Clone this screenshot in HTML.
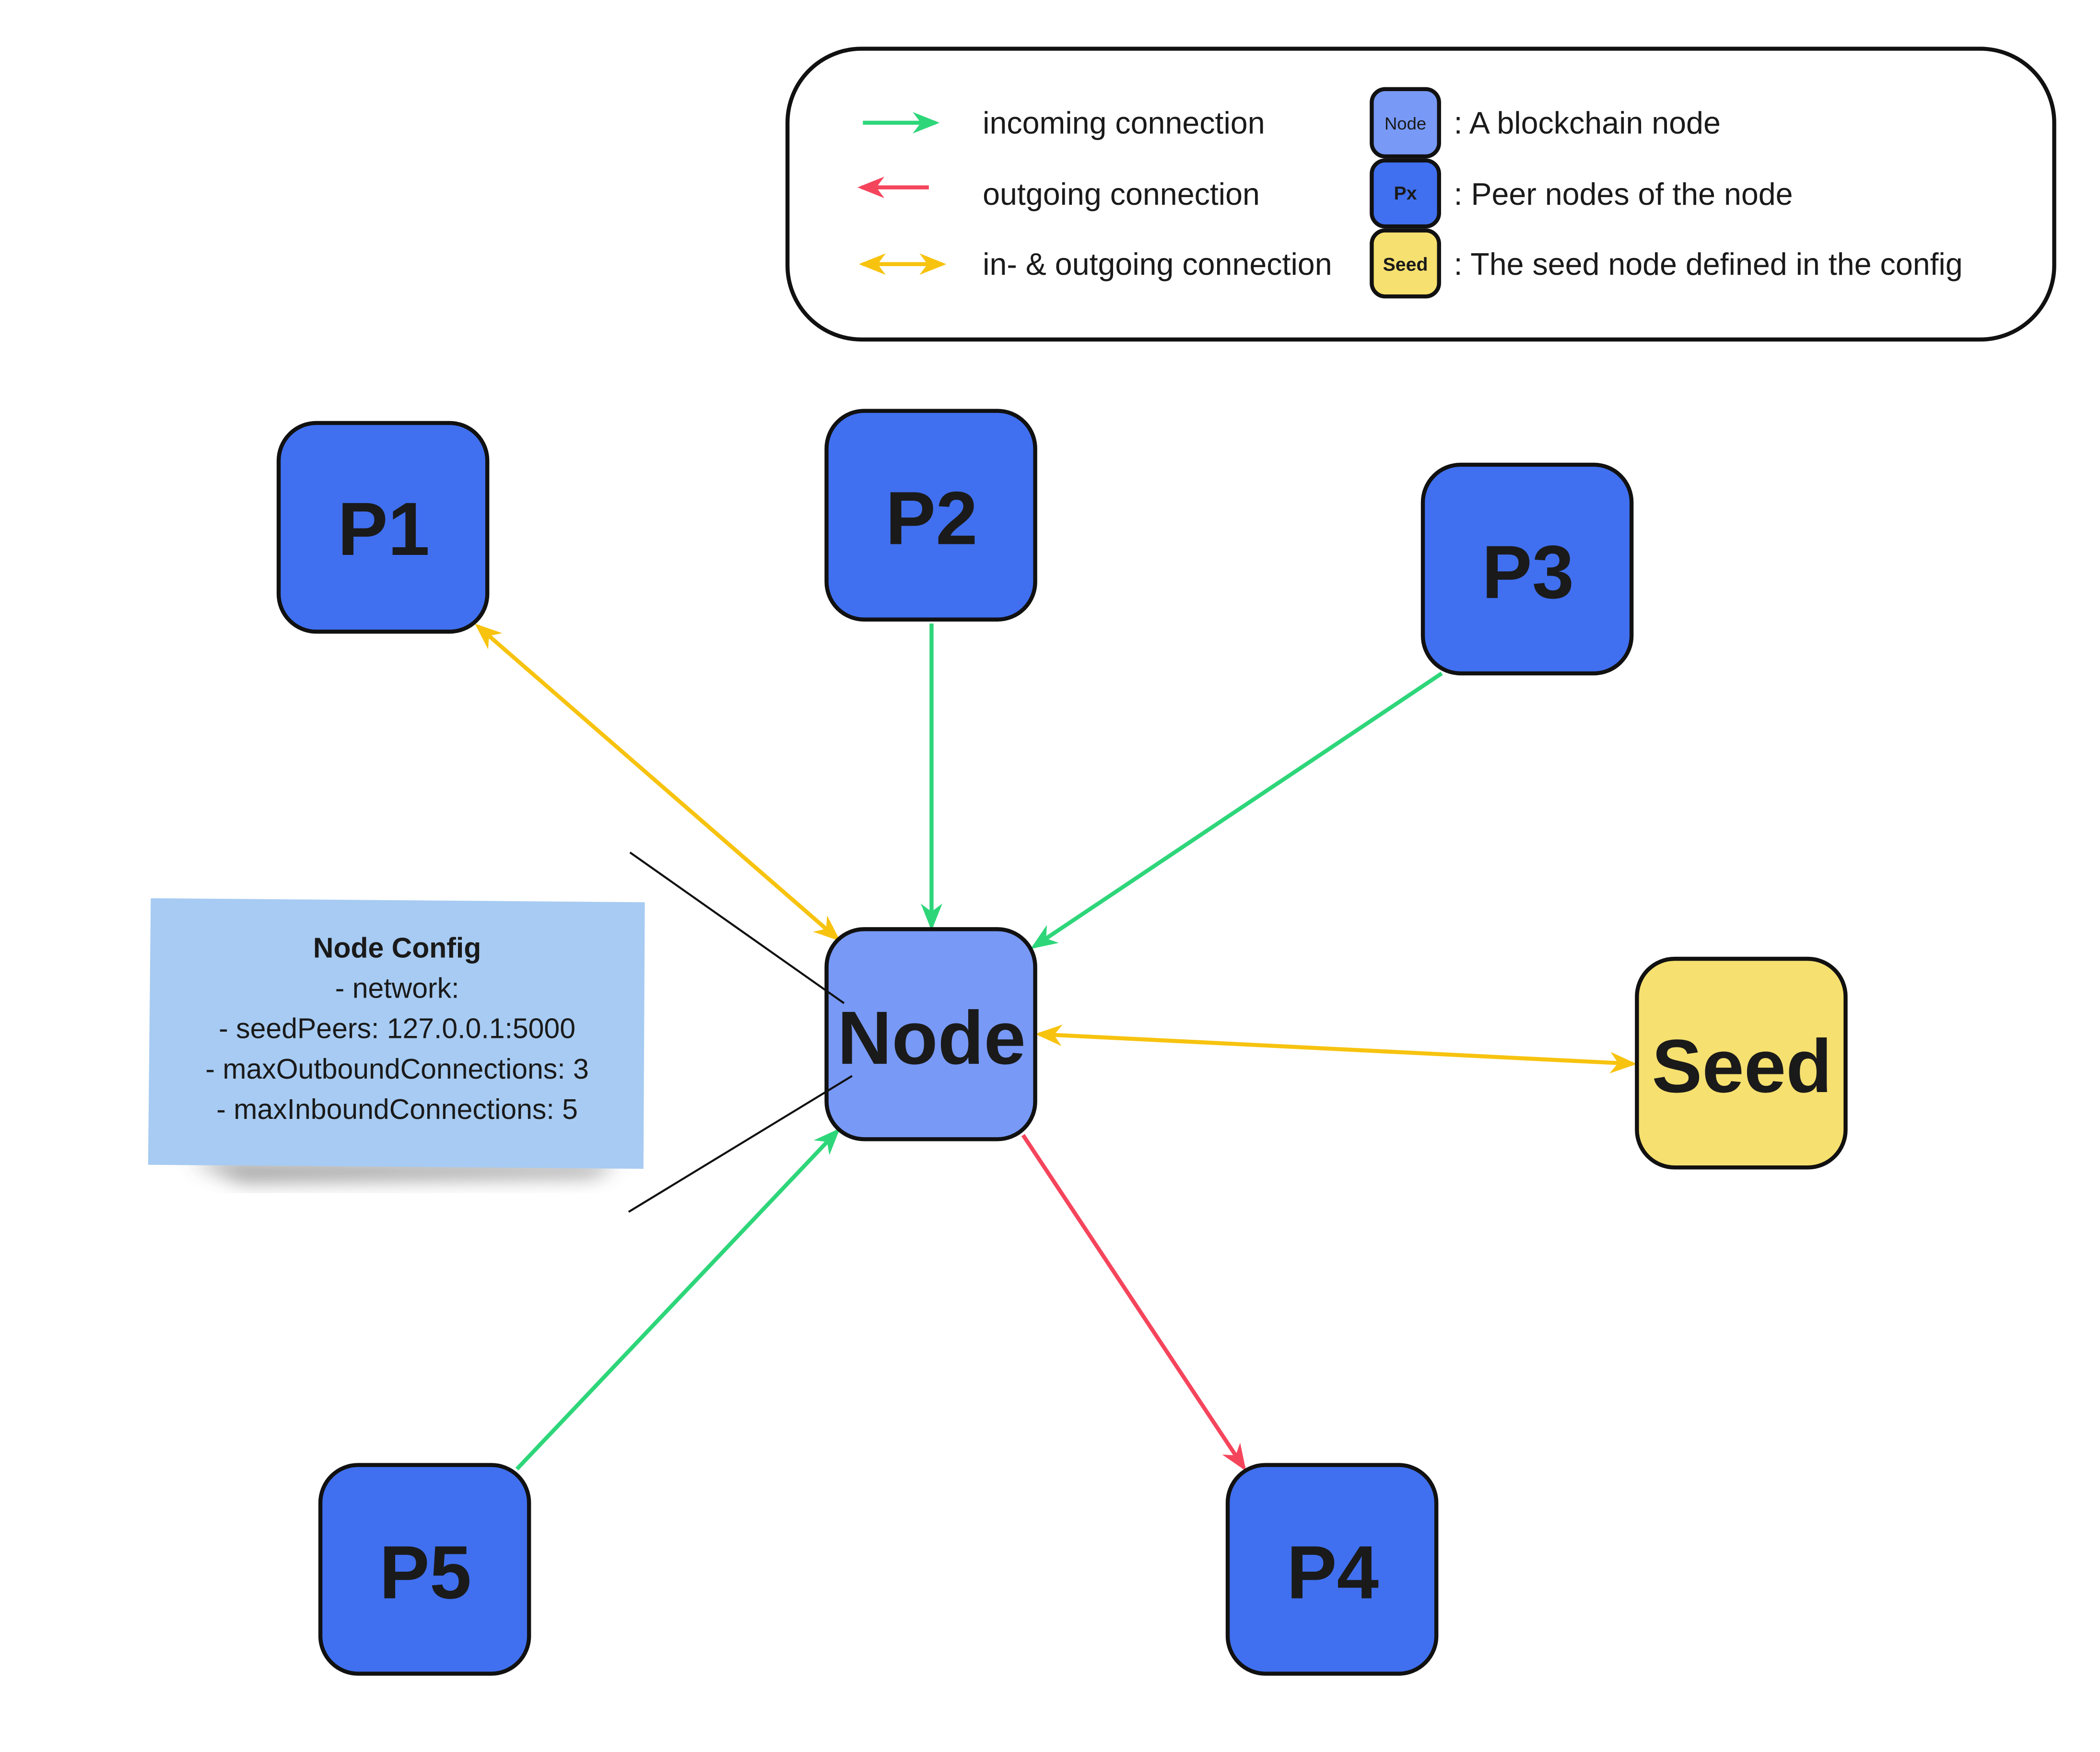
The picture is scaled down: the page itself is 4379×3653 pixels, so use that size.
<!DOCTYPE html>
<html><head><meta charset="utf-8"><style>
html,body{margin:0;padding:0;background:#fff;}
svg{display:block;}
text{font-family:"Liberation Sans","DejaVu Sans",sans-serif;fill:#1a1a1a;}
</style></head><body>
<svg width="4379" height="3653" viewBox="0 0 1560 1301" xmlns="http://www.w3.org/2000/svg">
<defs>
<marker id="ag" viewBox="0 0 20 20" refX="17" refY="10" markerWidth="20" markerHeight="20" markerUnits="userSpaceOnUse" orient="auto-start-reverse"><path d="M0,2 L20,10 L0,18 L6,10 Z" fill="#2ed67a"/></marker>
<marker id="ar" viewBox="0 0 20 20" refX="17" refY="10" markerWidth="20" markerHeight="20" markerUnits="userSpaceOnUse" orient="auto-start-reverse"><path d="M0,2 L20,10 L0,18 L6,10 Z" fill="#f5455c"/></marker>
<marker id="ay" viewBox="0 0 20 20" refX="17" refY="10" markerWidth="20" markerHeight="20" markerUnits="userSpaceOnUse" orient="auto-start-reverse"><path d="M0,2 L20,10 L0,18 L6,10 Z" fill="#f7c30f"/></marker>
<filter id="sh" x="-20%" y="-50%" width="140%" height="200%"><feGaussianBlur stdDeviation="7"/></filter>
</defs>
<!-- legend -->
<rect x="585" y="36" width="941" height="216" rx="55" fill="#fff" stroke="#111" stroke-width="3"/>
<line x1="641" y1="91" x2="695" y2="91" stroke="#2ed67a" stroke-width="3" marker-end="url(#ag)"/>
<line x1="690" y1="139" x2="640" y2="139" stroke="#f5455c" stroke-width="3" marker-end="url(#ar)"/>
<line x1="641" y1="196" x2="700" y2="196" stroke="#f7c30f" stroke-width="3" marker-start="url(#ay)" marker-end="url(#ay)"/>
<g font-size="23">
<text x="730" y="99">incoming connection</text>
<text x="730" y="152">outgoing connection</text>
<text x="730" y="204">in- &amp; outgoing connection</text>
<text x="1080" y="99">: A blockchain node</text>
<text x="1080" y="152">: Peer nodes of the node</text>
<text x="1080" y="204">: The seed node defined in the config</text>
</g>
<rect x="1019" y="66" width="50" height="50" rx="10" fill="#7899f6" stroke="#111" stroke-width="3"/>
<rect x="1019" y="119" width="50" height="49" rx="10" fill="#4070f0" stroke="#111" stroke-width="3"/>
<rect x="1019" y="171" width="50" height="49" rx="10" fill="#f6e06f" stroke="#111" stroke-width="3"/>
<text x="1044" y="96" font-size="13" text-anchor="middle">Node</text>
<text x="1044" y="148" font-size="14" font-weight="bold" text-anchor="middle">Px</text>
<text x="1044" y="201" font-size="14" font-weight="bold" text-anchor="middle">Seed</text>

<!-- sticky note -->
<path d="M140,862 L460,864 L440,874 L180,878 Z" fill="#444" opacity="0.5" filter="url(#sh)"/>
<polygon points="112,667 479,670 478,868 110,865" fill="#a7cbf2"/>
<g font-size="21" text-anchor="middle">
<text x="295" y="711" font-weight="bold">Node Config</text>
<text x="295" y="741">- network:</text>
<text x="295" y="771">- seedPeers: 127.0.0.1:5000</text>
<text x="295" y="801">- maxOutboundConnections: 3</text>
<text x="295" y="831">- maxInboundConnections: 5</text>
</g>

<!-- edges -->
<g stroke-width="3" fill="none">
<line x1="355" y1="465" x2="622" y2="697" stroke="#f7c30f" marker-start="url(#ay)" marker-end="url(#ay)"/>
<line x1="692" y1="463" x2="692" y2="688" stroke="#2ed67a" marker-end="url(#ag)"/>
<line x1="1071" y1="500" x2="768" y2="703" stroke="#2ed67a" marker-end="url(#ag)"/>
<line x1="772" y1="768" x2="1213" y2="790" stroke="#f7c30f" marker-start="url(#ay)" marker-end="url(#ay)"/>
<line x1="384" y1="1091" x2="622" y2="840" stroke="#2ed67a" marker-end="url(#ag)"/>
<line x1="760" y1="843" x2="924" y2="1090" stroke="#f5455c" marker-end="url(#ar)"/>
</g>

<!-- nodes -->
<g stroke="#111" stroke-width="3">
<rect x="207" y="314" width="155" height="155" rx="28" fill="#4070f0"/>
<rect x="614" y="305" width="155" height="155" rx="28" fill="#4070f0"/>
<rect x="1057" y="345" width="155" height="155" rx="28" fill="#4070f0"/>
<rect x="614" y="690" width="155" height="156" rx="28" fill="#7899f6"/>
<rect x="1216" y="712" width="155" height="155" rx="28" fill="#f6e06f"/>
<rect x="238" y="1088" width="155" height="155" rx="28" fill="#4070f0"/>
<rect x="912" y="1088" width="155" height="155" rx="28" fill="#4070f0"/>
</g>
<line x1="468" y1="633" x2="627" y2="745" stroke="#111" stroke-width="1.5"/>
<line x1="467" y1="900" x2="633" y2="799" stroke="#111" stroke-width="1.5"/>
<g font-size="56" font-weight="bold" text-anchor="middle">
<text x="285" y="412">P1</text>
<text x="692" y="404">P2</text>
<text x="1135" y="444">P3</text>
<text x="692" y="790">Node</text>
<text x="1294" y="811">Seed</text>
<text x="316" y="1187">P5</text>
<text x="990" y="1187">P4</text>
</g>
</svg>
</body></html>
